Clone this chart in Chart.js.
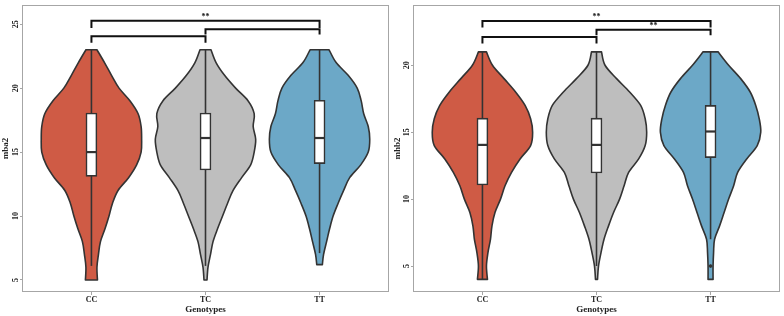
<!DOCTYPE html>
<html>
<head>
<meta charset="utf-8">
<script src="https://cdn.jsdelivr.net/npm/chart.js@4/dist/chart.umd.min.js"></script>
<style>
  html, body { margin: 0; padding: 0; background: #fff; }
  .wrap { display: flex; width: 784px; height: 316px; }
  .panel { position: relative; width: 392px; height: 316px; }
</style>
</head>
<body>
<div class="wrap">
  <div class="panel"><canvas id="mbaChart"></canvas></div>
  <div class="panel"><canvas id="mhbChart"></canvas></div>
</div>
<script>
const genotypes = ['CC', 'TC', 'TT'];
const fills = ['#CF5B45', '#BEBEBE', '#6CA8C7'];

// ---- mba2 panel ----
const mbaLevels = [5, 6, 7, 8, 9, 10, 11, 12, 13, 14, 15, 16, 17, 18, 19, 20, 21, 22, 23];
const mbaDensityCC = [0.12, 0.11, 0.14, 0.18, 0.27, 0.35, 0.42, 0.53, 0.74, 0.9, 0.99, 1.0, 0.99, 0.93, 0.77, 0.55, 0.4, 0.26, 0.11];
const mbaDensityTC = [0.03, 0.05, 0.1, 0.15, 0.24, 0.34, 0.44, 0.55, 0.72, 0.9, 0.97, 1.0, 0.95, 0.97, 0.85, 0.6, 0.38, 0.21, 0.11];
const mbaDensityTT = [0.05, 0.05, 0.08, 0.14, 0.2, 0.27, 0.37, 0.48, 0.6, 0.82, 0.97, 1.0, 0.97, 0.88, 0.83, 0.75, 0.57, 0.33, 0.19];
const mbaLow = [5, 5, 6.2];
const mbaHigh = [23, 23, 23];
const mbaQ1 = [13.1, 13.6, 14.1];
const mbaMedian = [15, 16.1, 16.1];
const mbaQ3 = [18.05, 18.05, 19.05];
const mbaWhiskLow = [6.1, 6.1, 7.1];
const mbaWhiskHigh = [23, 23, 23];
const mbaOutliers = [];
const mbaTicks = [5, 10, 15, 20, 25];
const mbaBrackets = [[0, 2], [1, 2], [0, 1]];
const mbaBracketY = [25.26, 24.6, 24.06];
const mbaBracketTip = [24.7, 24.2, 23.54];
const mbaBracketLabels = ['**', '', ''];

// ---- mhb2 panel ----
const mhbLevels = [4, 5, 6, 7, 8, 9, 10, 11, 12, 13, 14, 15, 16, 17, 18, 19, 20, 21];
const mhbDensityCC = [0.1, 0.08, 0.11, 0.16, 0.19, 0.25, 0.36, 0.45, 0.58, 0.75, 0.96, 1.0, 0.96, 0.85, 0.66, 0.43, 0.2, 0.08];
const mhbDensityTC = [0.02, 0.04, 0.09, 0.15, 0.24, 0.34, 0.46, 0.55, 0.64, 0.84, 0.97, 1.0, 0.97, 0.88, 0.66, 0.4, 0.17, 0.1];
const mhbDensityTT = [0.05, 0.05, 0.06, 0.08, 0.18, 0.27, 0.36, 0.46, 0.54, 0.72, 0.93, 1.0, 0.97, 0.9, 0.79, 0.6, 0.36, 0.15];
const mhbLow = [4, 4, 4];
const mhbHigh = [21, 21, 21];
const mhbQ1 = [11.05, 11.95, 13.1];
const mhbMedian = [14.05, 14.05, 15.05];
const mhbQ3 = [16.05, 16.05, 17.0];
const mhbWhiskLow = [4, 5, 7];
const mhbWhiskHigh = [21, 21, 21];
const mhbOutliers = [{x: 2, y: 5}];
const mhbTicks = [5, 10, 15, 20];
const mhbBrackets = [[0, 2], [1, 2], [0, 1]];
const mhbBracketY = [23.31, 22.66, 22.11];
const mhbBracketTip = [22.81, 22.24, 21.62];
const mhbBracketLabels = ['**', '**', ''];

const SERIF = "'Liberation Serif', 'Times New Roman', serif";
const INK = '#333333';
const FRAME = '#a6a6a6';
const VIOLIN_HALF = 0.44;   // max half-width in category units
const BOX_HALF = 0.047;

// smooth curve through points (Catmull-Rom -> bezier), first point must already be on path
function smoothThrough(ctx, pts) {
  for (let i = 0; i < pts.length - 1; i++) {
    const p0 = pts[Math.max(i - 1, 0)], p1 = pts[i], p2 = pts[i + 1], p3 = pts[Math.min(i + 2, pts.length - 1)];
    ctx.bezierCurveTo(
      p1.x + (p2.x - p0.x) / 6, p1.y + (p2.y - p0.y) / 6,
      p2.x - (p3.x - p1.x) / 6, p2.y - (p3.y - p1.y) / 6,
      p2.x, p2.y);
  }
}

function widthAt(levels, dens, v) {
  for (let k = 0; k < levels.length - 1; k++) {
    if (v >= levels[k] && v <= levels[k + 1]) {
      const t = (v - levels[k]) / (levels[k + 1] - levels[k]);
      return dens[k] + t * (dens[k + 1] - dens[k]);
    }
  }
  return dens[v < levels[0] ? 0 : dens.length - 1];
}

function makePanel(canvasId, p) {
  const violinPlugin = {
    id: 'violins',
    beforeDatasetsDraw(chart) {
      const {ctx, scales: {x, y}} = chart;
      ctx.save();
      p.densities.forEach((dens, i) => {
        // profile from low to high
        const prof = [{v: p.low[i], w: widthAt(p.levels, dens, p.low[i])}];
        p.levels.forEach((lv, k) => { if (lv > p.low[i] && lv < p.high[i]) prof.push({v: lv, w: dens[k]}); });
        prof.push({v: p.high[i], w: widthAt(p.levels, dens, p.high[i])});
        const right = prof.map(d => ({x: x.getPixelForValue(i + d.w * VIOLIN_HALF), y: y.getPixelForValue(d.v)}));
        const left = prof.map(d => ({x: x.getPixelForValue(i - d.w * VIOLIN_HALF), y: y.getPixelForValue(d.v)})).reverse();
        ctx.beginPath();
        ctx.moveTo(right[0].x, right[0].y);
        smoothThrough(ctx, right);
        ctx.lineTo(left[0].x, left[0].y);
        smoothThrough(ctx, left);
        ctx.closePath();
        ctx.fillStyle = fills[i];
        ctx.fill();
        ctx.lineWidth = 1.6;
        ctx.lineJoin = 'round';
        ctx.strokeStyle = INK;
        ctx.stroke();
        // whisker
        const cx = x.getPixelForValue(i);
        ctx.beginPath();
        ctx.moveTo(cx, y.getPixelForValue(p.whiskLow[i]));
        ctx.lineTo(cx, y.getPixelForValue(p.whiskHigh[i]));
        ctx.lineWidth = 1.6;
        ctx.stroke();
      });
      ctx.restore();
    },
    afterDatasetsDraw(chart) {
      const {ctx, scales: {x, y}} = chart;
      ctx.save();
      ctx.strokeStyle = INK;
      ctx.lineWidth = 2.2;
      p.median.forEach((m, i) => {
        const yy = y.getPixelForValue(m);
        ctx.beginPath();
        ctx.moveTo(x.getPixelForValue(i - BOX_HALF), yy);
        ctx.lineTo(x.getPixelForValue(i + BOX_HALF), yy);
        ctx.stroke();
      });
      ctx.restore();
    },
    afterDraw(chart) {
      const {ctx, chartArea: a, scales: {x, y}} = chart;
      ctx.save();
      // panel border
      ctx.strokeStyle = FRAME;
      ctx.lineWidth = 1;
      ctx.strokeRect(Math.round(a.left) - 0.5, Math.round(a.top) + 0.5, Math.round(a.right - a.left) + 1, Math.round(a.bottom - a.top) - 1);
      // significance brackets
      ctx.strokeStyle = '#111';
      ctx.lineWidth = 2;
      ctx.fillStyle = '#111';
      ctx.font = 'bold 8px ' + SERIF;
      ctx.textAlign = 'center';
      ctx.textBaseline = 'middle';
      p.brackets.forEach((br, k) => {
        const x1 = x.getPixelForValue(br[0]), x2 = x.getPixelForValue(br[1]);
        const yb = y.getPixelForValue(p.bracketY[k]), yt = y.getPixelForValue(p.bracketTip[k]);
        ctx.beginPath();
        ctx.moveTo(x1, yt);
        ctx.lineTo(x1, yb);
        ctx.lineTo(x2, yb);
        ctx.lineTo(x2, yt);
        ctx.stroke();
        if (p.bracketLabels[k]) ctx.fillText(p.bracketLabels[k], (x1 + x2) / 2, yb - 4);
      });
      ctx.restore();
    }
  };

  return new Chart(document.getElementById(canvasId), {
    type: 'bar',
    data: {
      datasets: [{
        label: 'box',
        data: genotypes.map((g, i) => ({x: i, y: [p.q1[i], p.q3[i]]})),
        backgroundColor: '#ffffff',
        borderColor: INK,
        borderWidth: 1.6,
        borderSkipped: false,
        barThickness: 11
      }, {
        type: 'scatter',
        label: 'outliers',
        data: p.outliers,
        pointRadius: 1.4,
        backgroundColor: INK,
        borderColor: INK
      }]
    },
    options: {
      responsive: true,
      maintainAspectRatio: false,
      animation: false,
      layout: { padding: { left: 0, top: 5, right: 4, bottom: 0 } },
      plugins: { legend: { display: false }, tooltip: { enabled: false } },
      scales: {
        x: {
          type: 'linear',
          min: -0.6,
          max: 2.6,
          offset: false,
          afterBuildTicks: s => { s.ticks = genotypes.map((g, i) => ({value: i})); },
          afterFit: s => { s.height = 24; },
          ticks: {
            callback: v => genotypes[v],
            font: { family: SERIF, size: 8, weight: 'bold' },
            color: '#222',
            padding: 0,
            maxRotation: 0
          },
          grid: { display: true, offset: false, drawOnChartArea: false, drawTicks: true, tickLength: 3, color: FRAME },
          border: { display: false },
          title: { display: true, text: 'Genotypes', color: '#222', font: { family: SERIF, size: 9, weight: 'bold' }, padding: { top: 0, bottom: 1 } }
        },
        y: {
          type: 'linear',
          min: p.yMin,
          max: p.yMax,
          afterBuildTicks: s => { s.ticks = p.ticks.map(v => ({value: v})); },
          afterFit: s => { s.width = p.axisWidth; },
          ticks: {
            font: { family: SERIF, size: 8, weight: 'bold' },
            color: '#222',
            minRotation: 90,
            maxRotation: 90,
            crossAlign: 'center',
            padding: 0
          },
          grid: { display: true, drawOnChartArea: false, drawTicks: true, tickLength: 3, color: FRAME },
          border: { display: false },
          title: { display: true, text: p.title, color: '#222', font: { family: SERIF, size: 9, weight: 'bold' }, padding: 0 }
        }
      }
    },
    plugins: [violinPlugin]
  });
}

const mbaChart = makePanel('mbaChart', {
  title: 'mba2', yMin: 4.06, yMax: 26.5, ticks: mbaTicks, axisWidth: 23,
  levels: mbaLevels, densities: [mbaDensityCC, mbaDensityTC, mbaDensityTT],
  low: mbaLow, high: mbaHigh, q1: mbaQ1, median: mbaMedian, q3: mbaQ3,
  whiskLow: mbaWhiskLow, whiskHigh: mbaWhiskHigh, outliers: mbaOutliers,
  brackets: mbaBrackets, bracketY: mbaBracketY, bracketTip: mbaBracketTip, bracketLabels: mbaBracketLabels
});

const mhbChart = makePanel('mhbChart', {
  title: 'mhb2', yMin: 3.06, yMax: 24.5, ticks: mhbTicks, axisWidth: 22,
  levels: mhbLevels, densities: [mhbDensityCC, mhbDensityTC, mhbDensityTT],
  low: mhbLow, high: mhbHigh, q1: mhbQ1, median: mhbMedian, q3: mhbQ3,
  whiskLow: mhbWhiskLow, whiskHigh: mhbWhiskHigh, outliers: mhbOutliers,
  brackets: mhbBrackets, bracketY: mhbBracketY, bracketTip: mhbBracketTip, bracketLabels: mhbBracketLabels
});
</script>
</body>
</html>
